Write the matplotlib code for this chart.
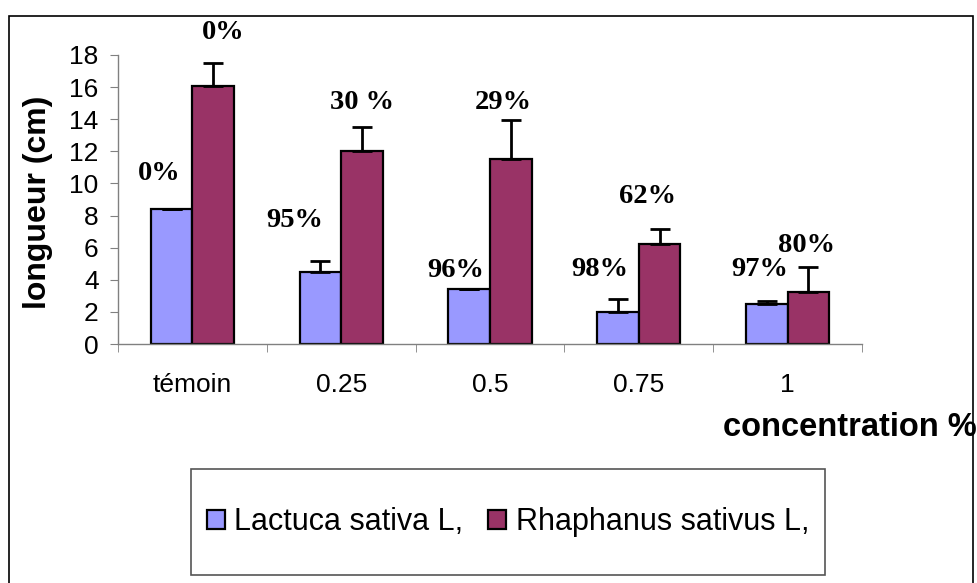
import matplotlib.pyplot as plt
import matplotlib.patches as mpatches
import numpy as np

# données
categories = ['témoin', '0.25', '0.5', '0.75', '1']
lactuca = [8.4, 4.5, 3.4, 2.0, 2.5]
lactuca_err = [0.0, 0.65, 0.0, 0.8, 0.15]
rhaphanus = [16.1, 12.0, 11.5, 6.2, 3.25]
rhaphanus_err = [1.4, 1.5, 2.45, 0.95, 1.55]
lactuca_pct = ['0%', '95%', '96%', '98%', '97%']
rhaphanus_pct = ['0%', '30 %', '29%', '62%', '80%']

# positions des étiquettes (x, y en unités de données)
lactuca_pos = [(-0.22, 10.64), (0.69, 7.72), (1.77, 4.6), (2.735, 4.67), (3.81, 4.67)]
rhaphanus_pos = [(0.21, 19.4), (1.14, 15.06), (2.09, 15.06), (3.06, 9.2), (4.13, 6.16)]

col_lac = '#9999FF'
col_rha = '#993366'

plt.rcParams['font.family'] = ['Liberation Sans', 'DejaVu Sans']

fig = plt.figure(figsize=(9.77, 5.83), dpi=100)
W, H = 977, 583
ax = fig.add_axes([118 / W, 1 - 344 / H, 744 / W, 289 / H])

x = np.arange(len(categories))
w = 0.28
ekw = dict(elinewidth=2, capthick=2, ecolor='black')
ax.bar(x - w / 2, lactuca, w, color=col_lac, edgecolor='black', linewidth=1.6,
       yerr=[[0] * len(x), lactuca_err], capsize=7, error_kw=ekw, label='Lactuca sativa L,')
ax.bar(x + w / 2, rhaphanus, w, color=col_rha, edgecolor='black', linewidth=1.6,
       yerr=[[0] * len(x), rhaphanus_err], capsize=7, error_kw=ekw, label='Rhaphanus sativus L,')

for txt, (px, py) in zip(lactuca_pct, lactuca_pos):
    ax.text(px, py, txt, ha='center', va='center', fontsize=20.5, fontweight='bold',
            family='Liberation Serif', clip_on=False)
for txt, (px, py) in zip(rhaphanus_pct, rhaphanus_pos):
    ax.text(px, py, txt, ha='center', va='center', fontsize=20.5, fontweight='bold',
            family='Liberation Serif', clip_on=False)

ax.set_xlim(-0.5, len(x) - 0.5)
ax.set_ylim(0, 18)
ax.set_yticks(np.arange(0, 19, 2))
ax.set_xticks(x)
ax.set_xticklabels(categories)
ax.set_xticks(np.arange(-0.5, len(x), 1), minor=True)
ax.tick_params(axis='x', which='major', length=0, pad=21, labelsize=19)
ax.tick_params(axis='x', which='minor', length=6, color='#808080', direction='out')
ax.tick_params(axis='y', length=6, color='#808080', pad=8, labelsize=19)

for s in ['top', 'right']:
    ax.spines[s].set_visible(False)
for s in ['left', 'bottom']:
    ax.spines[s].set_color('#808080')
    ax.spines[s].set_linewidth(1)

ax.set_ylabel('longueur (cm)', fontsize=23, fontweight='bold')
ax.yaxis.set_label_coords(-0.088, 0.49)

fig.text(723 / W, 1 - 427 / H, 'concentration %', fontsize=23.5, fontweight='bold',
         ha='left', va='center')

# cadre de la légende
fig.patches.append(mpatches.Rectangle((191 / W, 1 - 575 / H), (825 - 191) / W, (575 - 469) / H,
                                      transform=fig.transFigure, fill=False,
                                      edgecolor='#555555', linewidth=1.2))
# cadre du graphique
fig.patches.append(mpatches.Rectangle((9 / W, -0.05), (973 - 9) / W, 1 - 16 / H + 0.05,
                                      transform=fig.transFigure, fill=False,
                                      edgecolor='black', linewidth=1.2))

h, l = ax.get_legend_handles_labels()
fig.legend(h, l, loc='center', bbox_to_anchor=((191 + 825) / 2 / W, 1 - 522 / H),
           ncol=2, frameon=False, fontsize=22, handlelength=0.6, handleheight=0.6,
           handletextpad=0.3, columnspacing=0.8)

fig.savefig('out.png', dpi=100)
